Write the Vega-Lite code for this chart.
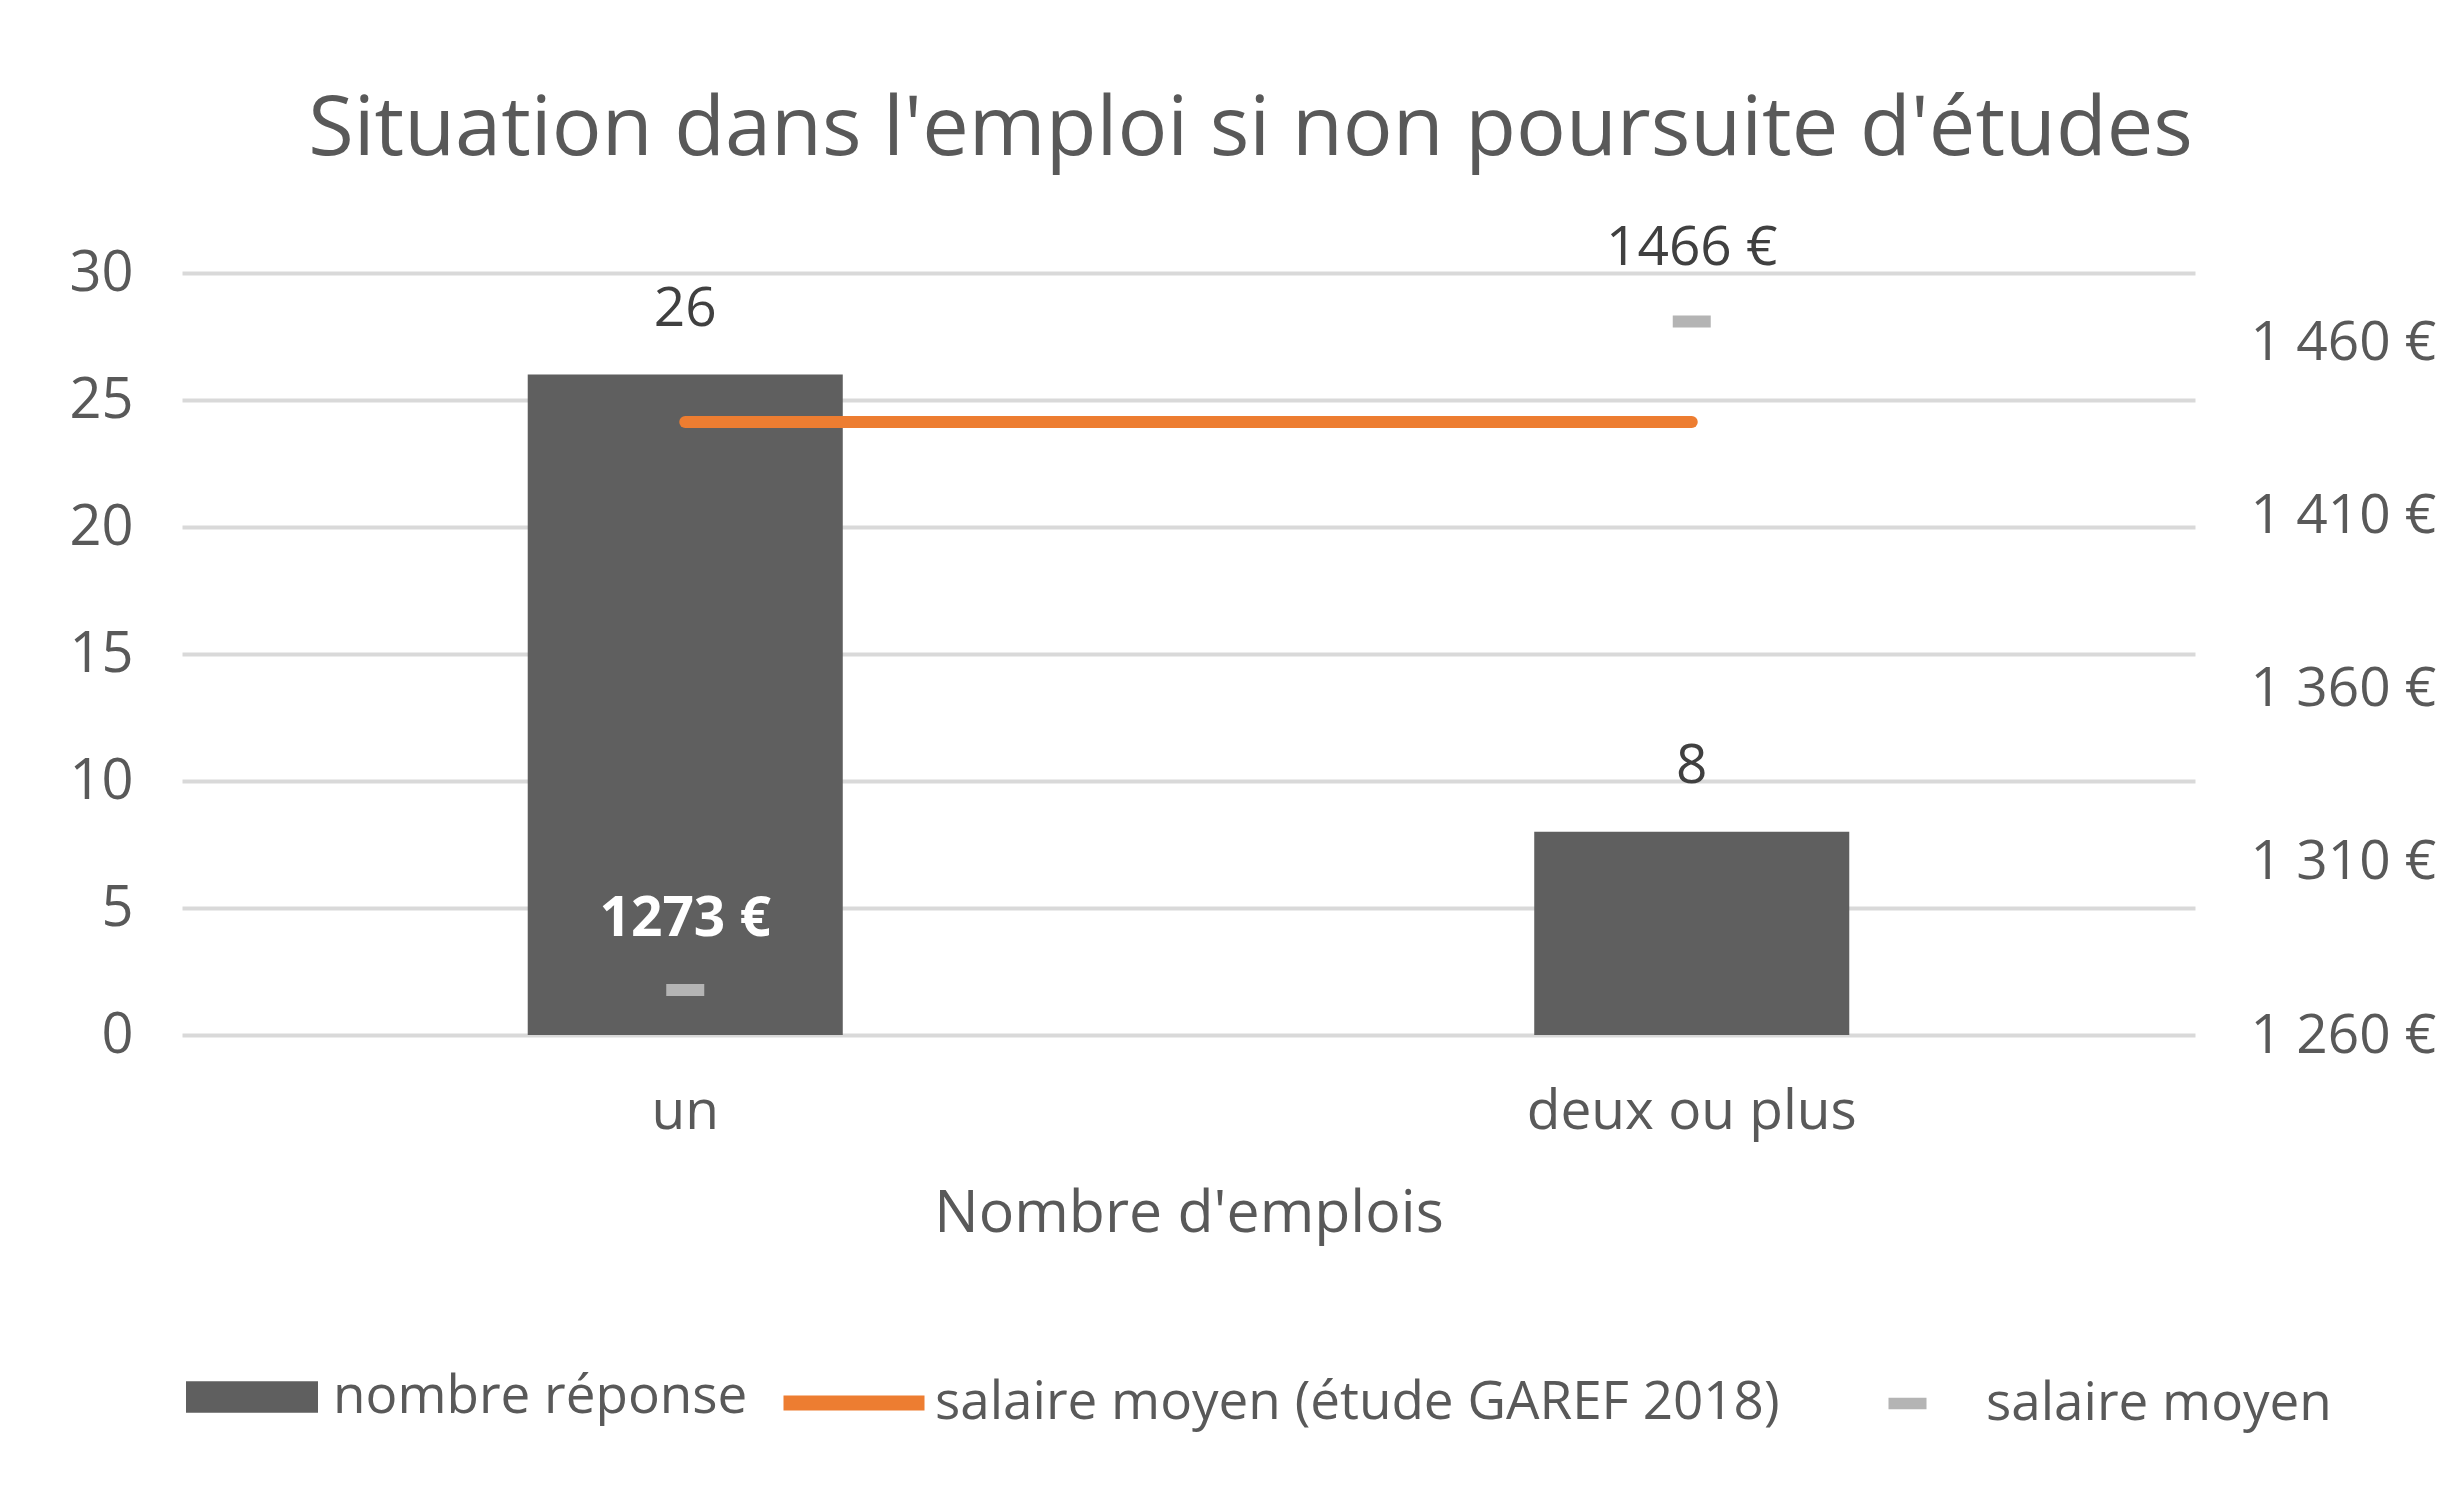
{
  "$schema": "https://vega.github.io/schema/vega-lite/v6.json",
  "width": 2013,
  "height": 762,
  "autosize": "none",
  "padding": {"left": 182, "top": 273, "right": 264, "bottom": 451},
  "background": "white",
  "config": {
    "font": "Open Sans",
    "view": {"stroke": null},
    "locale": {"number": {"decimal": ",", "thousands": " ", "grouping": [3], "currency": ["", " €"]}},
    "legend": {
      "orient": "none",
      "direction": "horizontal",
      "title": null,
      "padding": 0,
      "symbolOffset": 0,
      "labelOffset": 14,
      "labelFontSize": 53,
      "labelColor": "#595959",
      "labelLimit": 2000,
      "symbolOpacity": 1
    }
  },
  "title": {
    "text": "Situation dans l'emploi si non poursuite d'études",
    "fontSize": 83,
    "fontWeight": "normal",
    "color": "#595959",
    "frame": "group",
    "anchor": "middle",
    "dx": 62,
    "dy": 117,
    "offset": 100,
    "baseline": "alphabetic"
  },
  "data": {
    "values": [
      {"emplois": "un", "reponses": 26, "salaire": 1273, "garef": 1437},
      {"emplois": "deux ou plus", "reponses": 8, "salaire": 1466, "garef": 1437}
    ]
  },
  "encoding": {
    "x": {
      "field": "emplois",
      "type": "nominal",
      "sort": ["un", "deux ou plus"],
      "scale": {"paddingInner": 0, "paddingOuter": 0},
      "axis": {
        "title": "Nombre d'emplois",
        "labelAngle": 0,
        "labelFontSize": 55,
        "labelColor": "#595959",
        "labelLimit": 1000,
        "labelPadding": 50,
        "titleFontSize": 59,
        "titleFontWeight": "normal",
        "titleColor": "#595959",
        "titlePadding": 45,
        "domain": false,
        "ticks": false,
        "grid": false
      }
    }
  },
  "layer": [
    {
      "encoding": {
        "y": {
          "field": "reponses",
          "type": "quantitative",
          "scale": {"domain": [0, 30], "nice": false},
          "axis": {
            "orient": "left",
            "values": [0, 5, 10, 15, 20, 25, 30],
            "title": null,
            "grid": true,
            "gridColor": "#d9d9d9",
            "gridWidth": 4,
            "domain": false,
            "ticks": false,
            "labelFontSize": 56,
            "labelColor": "#595959",
            "labelPadding": 49
          }
        }
      },
      "layer": [
        {
          "mark": {"type": "bar", "width": {"band": 0.313}},
          "encoding": {
            "fill": {
              "datum": "nombre réponse",
              "type": "nominal",
              "scale": {"domain": ["nombre réponse"], "range": ["#5f5f5f"]},
              "legend": {
                "legendX": 3,
                "legendY": 1057,
                "symbolType": "M-1,-0.24H1V0.24H-1Z",
                "symbolSize": 17424
              }
            }
          }
        },
        {
          "mark": {"type": "text", "baseline": "middle", "dy": -66, "fontSize": 55, "color": "#404040"},
          "encoding": {"text": {"field": "reponses", "type": "quantitative", "format": "d"}}
        }
      ]
    },
    {
      "encoding": {
        "y": {
          "field": "salaire",
          "type": "quantitative",
          "scale": {"domain": [1260, 1480], "nice": false, "zero": false},
          "axis": {
            "orient": "right",
            "values": [1260, 1310, 1360, 1410, 1460],
            "format": "$,d",
            "title": null,
            "grid": false,
            "domain": false,
            "ticks": false,
            "labelFontSize": 55,
            "labelColor": "#595959",
            "labelLimit": 1000,
            "labelPadding": 55
          }
        }
      },
      "layer": [
        {
          "mark": {"type": "line", "strokeWidth": 12, "strokeCap": "round"},
          "encoding": {
            "y": {
              "field": "garef",
              "type": "quantitative",
              "axis": {
                "orient": "right",
                "values": [1260, 1310, 1360, 1410, 1460],
                "format": "$,d",
                "title": null,
                "grid": false,
                "domain": false,
                "ticks": false,
                "labelFontSize": 55,
                "labelColor": "#595959",
                "labelLimit": 1000,
                "labelPadding": 55
              }
            },
            "stroke": {
              "datum": "salaire moyen (étude GAREF 2018)",
              "type": "nominal",
              "scale": {"domain": ["salaire moyen (étude GAREF 2018)"], "range": ["#ed7d31"]},
              "legend": {
                "legendX": 594,
                "legendY": 1052,
                "symbolType": "stroke",
                "symbolSize": 19881,
                "symbolStrokeWidth": 15,
                "labelOffset": 3
              }
            }
          }
        },
        {
          "mark": {"type": "tick", "orient": "horizontal", "size": 38, "thickness": 12, "opacity": 1},
          "encoding": {
            "color": {
              "datum": "salaire moyen",
              "type": "nominal",
              "scale": {"domain": ["salaire moyen"], "range": ["#b4b4b4"]},
              "legend": {
                "legendX": 1699,
                "legendY": 1104,
                "symbolType": "M-1,-0.3H1V0.3H-1Z",
                "symbolSize": 1444,
                "labelOffset": 52
              }
            }
          }
        },
        {
          "transform": [{"filter": "datum.emplois == 'un'"}],
          "mark": {"type": "text", "baseline": "middle", "dy": -71, "fontSize": 55, "fontWeight": "bold", "color": "#ffffff"},
          "encoding": {"text": {"field": "salaire", "type": "quantitative", "format": "$d"}}
        },
        {
          "transform": [{"filter": "datum.emplois != 'un'"}],
          "mark": {"type": "text", "baseline": "middle", "dy": -73, "fontSize": 55, "color": "#404040"},
          "encoding": {"text": {"field": "salaire", "type": "quantitative", "format": "$d"}}
        }
      ]
    }
  ],
  "resolve": {"scale": {"y": "independent"}}
}
